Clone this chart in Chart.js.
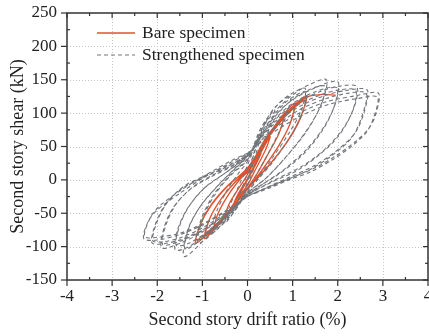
<!DOCTYPE html>
<html><head><meta charset="utf-8">
<script src="https://cdn.jsdelivr.net/npm/chart.js@4.4.1/dist/chart.umd.min.js"></script>
<style>html,body{margin:0;padding:0;background:#fff;}canvas{display:block;}</style>
</head><body>
<canvas id="c" width="429" height="336" style="width:429px;height:336px"></canvas>
<script>
// ---- axis settings / labels ----
const xTicks = [-4, -3, -2, -1, 0, 1, 2, 3, 4];
const xMinor = [-3.5, -2.5, -1.5, -0.5, 0.5, 1.5, 2.5, 3.5];
const yTicks = [-150, -100, -50, 0, 50, 100, 150, 200, 250];
const yMinor = [-125, -75, -25, 25, 75, 125, 175, 225];
const seriesNames = ['Bare specimen', 'Strengthened specimen'];
const xTitle = 'Second story drift ratio (%)';
const yTitle = 'Second story shear (kN)';

// ---- Bare specimen loops: [drift %, shear kN] ----
const bareLoop1 = [[0,0],[0.15,22],[0.3,40],[0.2,25],[0,0],[-0.15,-18],[-0.3,-35],[-0.2,-20],[0,2]];
const bareLoop2 = [[0,2],[0.25,35],[0.5,65],[0.4,45],[0.15,12],[0,-8],[-0.25,-30],[-0.5,-55],[-0.4,-35],[-0.15,-8],[0,8]];
const bareLoop3 = [[0,8],[0.3,45],[0.55,75],[0.8,95],[0.7,70],[0.45,38],[0.2,8],[0,-12],[-0.3,-40],[-0.55,-60],[-0.75,-75],[-0.65,-50],[-0.4,-20],[-0.15,2],[0,12]];
const bareLoop4 = [[0,12],[0.35,55],[0.7,90],[1.05,115],[0.95,85],[0.7,52],[0.4,22],[0.1,-5],[-0.2,-30],[-0.55,-60],[-0.95,-88],[-0.85,-60],[-0.6,-30],[-0.3,-5],[0,16]];
const bareLoop5 = [[0,16],[0.35,52],[0.7,86],[1.03,110],[0.93,82],[0.68,50],[0.38,20],[0.1,-6],[-0.2,-30],[-0.55,-58],[-0.93,-84],[-0.83,-57],[-0.58,-28],[-0.28,-4],[0,15]];
const bareLoop6 = [[0,15],[0.4,62],[0.85,100],[1.3,125],[1.2,98],[0.95,65],[0.6,32],[0.25,5],[0,-12],[-0.35,-42],[-0.75,-72],[-1.15,-95],[-1.05,-68],[-0.8,-38],[-0.45,-10],[0,18]];
const bareLoop7 = [[0,18],[0.4,58],[0.85,96],[1.28,120],[1.18,94],[0.93,62],[0.58,30],[0.23,3],[0,-13],[-0.35,-42],[-0.75,-70],[-1.13,-90],[-1.03,-64],[-0.78,-35],[-0.43,-8],[0,17]];
const bareLoop8 = [[0,17],[0.45,65],[0.9,102],[1.3,124],[1.65,128],[1.95,127]];

// ---- Strengthened specimen loops: [drift %, shear kN] ----
const strLoop1 = [[0,0],[0.15,40],[0.3,68],[0.2,42],[0.05,8],[-0.1,-22],[-0.25,-42],[-0.15,-18],[0,10]];
const strLoop2 = [[0,10],[0.2,52],[0.4,86],[0.6,105],[0.5,80],[0.3,45],[0.1,10],[-0.1,-25],[-0.3,-48],[-0.5,-65],[-0.4,-40],[-0.2,-10],[0,22]];
const strLoop3 = [[0,22],[0.3,74],[0.6,108],[0.95,125],[0.85,95],[0.6,58],[0.3,20],[0,-15],[-0.3,-45],[-0.55,-65],[-0.8,-80],[-0.7,-50],[-0.45,-15],[-0.2,10],[0,28]];
const strLoop4 = [[0,28],[0.3,78],[0.7,115],[1.0,130],[1.28,137],[1.2,105],[0.9,68],[0.5,28],[0.2,0],[0,-18],[-0.3,-48],[-0.7,-76],[-1.1,-95],[-1.0,-60],[-0.75,-25],[-0.4,5],[0,30]];
const strLoop5 = [[0,30],[0.35,75],[0.75,110],[1.05,126],[1.3,132],[1.22,100],[0.95,65],[0.55,26],[0.2,-2],[0,-18],[-0.35,-48],[-0.75,-74],[-1.12,-90],[-1.02,-58],[-0.75,-22],[-0.4,6],[0,32]];
const strLoop6 = [[0,32],[0.4,85],[0.9,122],[1.35,142],[1.75,150],[1.65,115],[1.35,78],[0.9,38],[0.45,5],[0,-20],[-0.4,-52],[-0.9,-86],[-1.4,-115],[-1.35,-80],[-1.1,-45],[-0.7,-12],[-0.35,12],[0,35]];
const strLoop7 = [[0,35],[0.45,82],[0.95,118],[1.4,136],[1.72,140],[1.6,108],[1.28,70],[0.82,32],[0.4,2],[0,-20],[-0.42,-52],[-0.9,-82],[-1.38,-104],[-1.3,-72],[-1.03,-38],[-0.65,-8],[-0.33,14],[0,36]];
const strLoop8 = [[0,36],[0.4,80],[0.9,115],[1.5,138],[2.0,147],[1.95,115],[1.7,80],[1.3,45],[0.8,15],[0.3,-8],[0,-22],[-0.4,-50],[-0.9,-80],[-1.3,-100],[-1.6,-105],[-1.55,-75],[-1.35,-45],[-1.0,-15],[-0.5,10],[0,36]];
const strLoop9 = [[0,36],[0.45,80],[0.95,112],[1.5,132],[1.98,138],[1.9,106],[1.62,70],[1.2,36],[0.7,9],[0.25,-10],[0,-22],[-0.42,-50],[-0.9,-78],[-1.3,-95],[-1.58,-98],[-1.5,-68],[-1.28,-38],[-0.92,-10],[-0.46,12],[0,37]];
const strLoop10 = [[0,37],[0.5,82],[1.0,112],[1.6,132],[2.0,140],[2.42,140],[2.37,110],[2.1,75],[1.7,45],[1.2,20],[0.6,0],[0,-23],[-0.5,-52],[-1.0,-78],[-1.5,-95],[-1.9,-102],[-1.85,-72],[-1.65,-42],[-1.3,-16],[-0.8,5],[-0.35,20],[0,38]];
const strLoop11 = [[0,38],[0.5,80],[1.05,110],[1.65,128],[2.05,135],[2.4,134],[2.32,102],[2.02,66],[1.6,38],[1.1,14],[0.55,-3],[0,-23],[-0.5,-52],[-1.0,-76],[-1.5,-92],[-1.88,-97],[-1.8,-66],[-1.58,-36],[-1.22,-11],[-0.75,8],[-0.33,22],[0,38]];
const strLoop12 = [[0,38],[0.5,78],[1.1,108],[1.7,126],[2.2,134],[2.65,135],[2.6,105],[2.4,72],[2.0,45],[1.5,22],[0.9,3],[0.3,-15],[0,-25],[-0.5,-52],[-1.0,-75],[-1.5,-90],[-1.9,-96],[-2.12,-94],[-2.05,-68],[-1.85,-40],[-1.5,-15],[-1.0,3],[-0.5,18],[0,38]];
const strLoop13 = [[0,38],[0.55,76],[1.15,105],[1.75,122],[2.25,130],[2.63,130],[2.55,98],[2.32,64],[1.9,38],[1.4,16],[0.82,-1],[0.28,-16],[0,-25],[-0.5,-50],[-1.0,-72],[-1.5,-87],[-1.9,-93],[-2.1,-91],[-2.0,-62],[-1.78,-34],[-1.42,-10],[-0.95,6],[-0.48,20],[0,38]];
const strLoop14 = [[0,38],[0.5,72],[1.2,102],[1.8,118],[2.4,126],[2.9,130],[2.85,100],[2.7,78],[2.4,58],[2.0,38],[1.5,18],[1.0,4],[0.5,-10],[0,-25],[-0.5,-48],[-1.0,-68],[-1.5,-82],[-2.0,-90],[-2.3,-88],[-2.2,-62],[-2.0,-45],[-1.5,-20],[-1.05,0],[-0.75,12],[-0.4,25],[0,40]];
const strLoop15 = [[0,40],[0.55,70],[1.25,98],[1.85,114],[2.45,122],[2.88,124],[2.8,94],[2.62,70],[2.3,50],[1.9,31],[1.4,12],[0.92,0],[0.46,-13],[0,-25],[-0.5,-47],[-1.0,-66],[-1.5,-80],[-2.0,-86],[-2.28,-85],[-2.15,-56],[-1.93,-38],[-1.42,-13],[-0.98,5],[-0.7,16],[-0.38,28],[0,40]];

const bareLoops = [bareLoop1, bareLoop2, bareLoop3, bareLoop4, bareLoop5, bareLoop6, bareLoop7, bareLoop8];
const strLoops = [strLoop1, strLoop2, strLoop3, strLoop4, strLoop5, strLoop6, strLoop7, strLoop8,
                  strLoop9, strLoop10, strLoop11, strLoop12, strLoop13, strLoop14, strLoop15];

const colors = { bare: '#e0512e', str: '#72757a', axis: '#333333', text: '#222222', grid: '#c4c4c4' };
const FONT = '"Liberation Serif", "Times New Roman", serif';

function toPoints(loops) {
  const out = [];
  loops.forEach(loop => loop.forEach(p => {
    const last = out[out.length - 1];
    if (last && last.x === p[0] && last.y === p[1]) return;
    out.push({ x: p[0], y: p[1] });
  }));
  return out;
}

const framePlugin = {
  id: 'frame',
  beforeDatasetsDraw(chart) {
    const { ctx, chartArea: a, scales: { x, y } } = chart;
    ctx.save();
    ctx.strokeStyle = colors.grid; ctx.lineWidth = 1; ctx.setLineDash([1, 2]);
    xTicks.slice(1, -1).forEach(v => {
      const px = Math.round(x.getPixelForValue(v)) + 0.5;
      ctx.beginPath(); ctx.moveTo(px, a.top); ctx.lineTo(px, a.bottom); ctx.stroke();
    });
    yTicks.slice(1, -1).forEach(v => {
      const py = Math.round(y.getPixelForValue(v)) + 0.5;
      ctx.beginPath(); ctx.moveTo(a.left, py); ctx.lineTo(a.right, py); ctx.stroke();
    });
    ctx.restore();
  },
  afterDatasetsDraw(chart) {
    const { ctx, chartArea: a, scales: { x, y } } = chart;
    ctx.save();
    ctx.strokeStyle = colors.axis; ctx.lineWidth = 1.5; ctx.setLineDash([]);
    ctx.strokeRect(a.left, a.top, a.right - a.left, a.bottom - a.top);
    ctx.lineWidth = 1.2;
    const seg = (x1, y1, x2, y2) => { ctx.beginPath(); ctx.moveTo(x1, y1); ctx.lineTo(x2, y2); ctx.stroke(); };
    xTicks.forEach(v => {
      const px = x.getPixelForValue(v);
      seg(px, a.bottom, px, a.bottom + 6);
      seg(px, a.top, px, a.top + 5);
    });
    xMinor.forEach(v => {
      const px = x.getPixelForValue(v);
      seg(px, a.bottom - 3, px, a.bottom);
      seg(px, a.top, px, a.top + 3);
    });
    yTicks.forEach(v => {
      const py = y.getPixelForValue(v);
      seg(a.left - 6, py, a.left, py);
      seg(a.right - 5, py, a.right, py);
    });
    yMinor.forEach(v => {
      const py = y.getPixelForValue(v);
      seg(a.left, py, a.left + 3, py);
      seg(a.right - 3, py, a.right, py);
    });
    ctx.restore();
  },
  afterDraw(chart) {
    const { ctx } = chart;
    ctx.save();
    ctx.font = '17.5px ' + FONT;
    ctx.fillStyle = colors.text;
    ctx.textBaseline = 'middle';
    ctx.textAlign = 'left';
    ctx.strokeStyle = colors.bare; ctx.lineWidth = 1.5; ctx.setLineDash([]);
    ctx.beginPath(); ctx.moveTo(97, 33); ctx.lineTo(135, 33); ctx.stroke();
    ctx.fillText(seriesNames[0], 142, 33);
    ctx.strokeStyle = colors.str; ctx.lineWidth = 1.1; ctx.setLineDash([4, 3]);
    ctx.beginPath(); ctx.moveTo(97, 55); ctx.lineTo(135, 55); ctx.stroke();
    ctx.setLineDash([]);
    ctx.fillText(seriesNames[1], 142, 55);
    ctx.restore();
  }
};

new Chart(document.getElementById('c'), {
  type: 'scatter',
  data: {
    datasets: [
      { label: seriesNames[0], data: toPoints(bareLoops), showLine: true, borderColor: colors.bare,
        borderWidth: 1.3, pointRadius: 0, tension: 0.3, order: 1, fill: false },
      { label: seriesNames[1], data: toPoints(strLoops), showLine: true, borderColor: colors.str,
        borderWidth: 1.1, borderDash: [4, 3], pointRadius: 0, tension: 0.3, order: 0, fill: false }
    ]
  },
  options: {
    responsive: false, animation: false, devicePixelRatio: 1,
    layout: { padding: { top: 13, right: 1, left: 0, bottom: 0 } },
    plugins: { legend: { display: false }, tooltip: { enabled: false } },
    scales: {
      x: {
        type: 'linear', min: -4, max: 4,
        afterBuildTicks: s => { s.ticks = xTicks.map(v => ({ value: v })); },
        afterFit: s => { s.height = 56; s.paddingLeft = 0; s.paddingRight = 0; },
        grid: { display: false, drawTicks: false }, border: { display: false },
        ticks: { autoSkip: false, maxRotation: 0, padding: 6, color: colors.text, font: { family: FONT, size: 17 } },
        title: { display: true, text: xTitle, color: colors.text, font: { family: FONT, size: 18 }, padding: { top: 0, bottom: 5 } }
      },
      y: {
        type: 'linear', min: -150, max: 250,
        afterBuildTicks: s => { s.ticks = yTicks.map(v => ({ value: v })); },
        afterFit: s => { s.width = 67; s.paddingTop = 0; s.paddingBottom = 0; },
        grid: { display: false, drawTicks: false }, border: { display: false },
        ticks: { autoSkip: false, padding: 10, color: colors.text, font: { family: FONT, size: 17 } },
        title: { display: true, text: yTitle, color: colors.text, font: { family: FONT, size: 18 }, padding: { top: 7, bottom: 0 } }
      }
    }
  },
  plugins: [framePlugin]
});
</script>
</body></html>
